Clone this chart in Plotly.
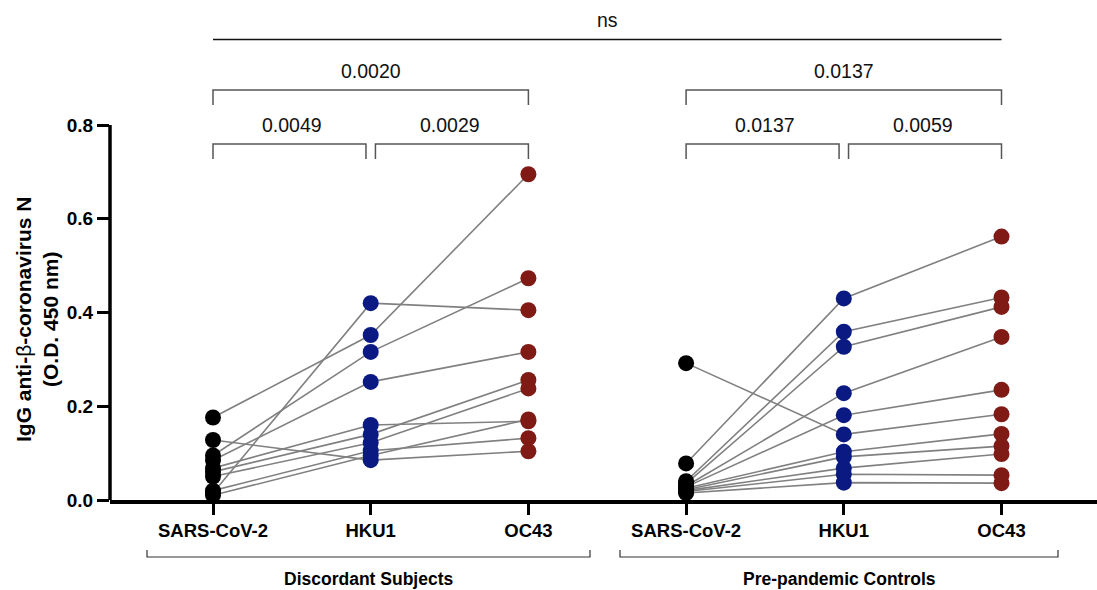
import plotly.graph_objects as go

categories = ["SARS-CoV-2", "HKU1", "OC43"]
groups = ["Discordant Subjects", "Pre-pandemic Controls"]

# Discordant subjects (paired values per subject)
disc_sars = [0.176, 0.015, 0.095, 0.085, 0.128, 0.068, 0.060, 0.050, 0.020, 0.010]
disc_hku1 = [0.352, 0.420, 0.316, 0.252, 0.085, 0.160, 0.140, 0.122, 0.105, 0.095]
disc_oc43 = [0.695, 0.405, 0.473, 0.316, 0.104, 0.168, 0.256, 0.238, 0.132, 0.172]

# Pre-pandemic controls
ctrl_sars = [0.078, 0.040, 0.035, 0.030, 0.028, 0.292, 0.025, 0.022, 0.020, 0.018, 0.015]
ctrl_hku1 = [0.430, 0.359, 0.327, 0.228, 0.181, 0.140, 0.103, 0.092, 0.068, 0.055, 0.037]
ctrl_oc43 = [0.562, 0.432, 0.412, 0.348, 0.235, 0.183, 0.141, 0.115, 0.098, 0.053, 0.036]

# comparisons: (group index, cat a, cat b, label, level)
comparisons = [
    (0, 0, 1, "0.0049", 0), (0, 1, 2, "0.0029", 0), (0, 0, 2, "0.0020", 1),
    (1, 0, 1, "0.0137", 0), (1, 1, 2, "0.0059", 0), (1, 0, 2, "0.0137", 1),
]
ns_label = "ns"

colors = ["#000000", "#0b1a82", "#7f1a15"]
FONT = "Liberation Sans, Arial, Helvetica, sans-serif"

W, H = 1097, 590
ML, MB, MT, MR = 110, 90, 0, 0
plot_w = W - ML - MR
plot_h = H - MB - MT
px_per_unit_y = 468.75
yr = [0, plot_h / px_per_unit_y]
px_per_cat = 157.7
x0 = -(213 - ML) / px_per_cat
xr = [x0, x0 + plot_w / px_per_cat]

fig = go.Figure()

data = [(disc_sars, disc_hku1, disc_oc43), (ctrl_sars, ctrl_hku1, ctrl_oc43)]
for g, (s, h, o) in enumerate(data):
    base = g * 3
    for i in range(len(s)):
        fig.add_trace(go.Scatter(
            x=[base, base + 1, base + 2], y=[s[i], h[i], o[i]], mode="lines",
            line=dict(color="#808080", width=1.6), showlegend=False,
            hoverinfo="skip", cliponaxis=False))
for g, (s, h, o) in enumerate(data):
    base = g * 3
    for c, vals in enumerate([s, h, o]):
        fig.add_trace(go.Scatter(
            x=[base + c] * len(vals), y=vals, mode="markers",
            marker=dict(color=colors[c], size=16, line=dict(width=0)),
            showlegend=False, cliponaxis=False, name=categories[c]))

def ydata(pix):
    return (MT + plot_h - pix) / px_per_unit_y

shapes = []
annotations = []
# pairwise brackets
for g, a, b, lab, lev in comparisons:
    base = g * 3
    xa, xb = base + a, base + b
    if lev == 0:
        if a == 0:
            xb -= 0.03
        else:
            xa += 0.03
        ytop, ybot, ytxt = ydata(144), ydata(159), ydata(124.5)
    else:
        ytop, ybot, ytxt = ydata(90), ydata(105), ydata(70.5)
    shapes.append(dict(type="path",
                       path=f"M {xa} {ybot} L {xa} {ytop} L {xb} {ytop} L {xb} {ybot}",
                       xref="x", yref="y", line=dict(color="#555555", width=1.5)))
    annotations.append(dict(x=(base + a + base + b) / 2, y=ytxt, xref="x", yref="y",
                            text=lab, showarrow=False, xanchor="center", yanchor="middle",
                            font=dict(family=FONT, size=19.5, color="#111111")))
# ns line
shapes.append(dict(type="line", x0=0, x1=5, y0=ydata(39.5), y1=ydata(39.5),
                   xref="x", yref="y", line=dict(color="#111111", width=1.5)))
annotations.append(dict(x=2.5, y=ydata(20), xref="x", yref="y", text=ns_label,
                        showarrow=False, xanchor="center", yanchor="middle",
                        font=dict(family=FONT, size=19.5, color="#111111")))

# y axis line (0 to 0.8)
shapes.append(dict(type="line", xref="paper", yref="paper", x0=0, x1=0,
                   y0=0, y1=0.8 * px_per_unit_y / plot_h,
                   line=dict(color="black", width=3.5)))

# group brackets below
def xp(pix):
    return (pix - ML) / plot_w

def yp(pix):
    return (MT + plot_h - pix) / plot_h

for (l, r), lab in zip([(147, 590), (620, 1058)], groups):
    shapes.append(dict(type="path", xref="paper", yref="paper",
                       path=f"M {xp(l)} {yp(550)} L {xp(l)} {yp(557)} L {xp(r)} {yp(557)} L {xp(r)} {yp(550)}",
                       line=dict(color="#333333", width=1.2)))
    annotations.append(dict(x=xp((l + r) / 2), y=yp(579), xref="paper", yref="paper",
                            text=f"<b>{lab}</b>", showarrow=False,
                            xanchor="center", yanchor="middle",
                            font=dict(family=FONT, size=17.5, color="black")))

# y title
annotations.append(dict(x=0, xshift=-73, y=ydata(320), xref="paper", yref="y",
                        text="<b>IgG anti-</b>β<b>-coronavirus N</b><br><b>(O.D. 450 nm)</b>",
                        textangle=-90, showarrow=False, xanchor="center", yanchor="middle",
                        font=dict(family=FONT, size=21, color="black")))

fig.update_layout(
    width=W, height=H,
    margin=dict(l=ML, r=MR, t=MT, b=MB, pad=0),
    plot_bgcolor="white", paper_bgcolor="white",
    shapes=shapes, annotations=annotations,
    xaxis=dict(range=xr, tickvals=[0, 1, 2, 3, 4, 5], ticktext=categories * 2,
               showline=True, linecolor="black", linewidth=3.5,
               ticks="outside", ticklen=11, tickwidth=3, tickcolor="black",
               showgrid=False, zeroline=False,
               tickfont=dict(family=FONT, size=18.5, color="black", weight="bold")),
    yaxis=dict(range=yr, tickvals=[0, 0.2, 0.4, 0.6, 0.8],
               ticktext=["0.0", "0.2", "0.4", "0.6", "0.8"],
               showline=False, ticks="outside", ticklen=12, tickwidth=3, tickcolor="black",
               showgrid=False, zeroline=False,
               tickfont=dict(family=FONT, size=19, color="black", weight="bold")),
)

fig.write_html("out.html", config={"displayModeBar": False},
               post_script="document.body.style.margin='0px';document.body.style.padding='0px';")
